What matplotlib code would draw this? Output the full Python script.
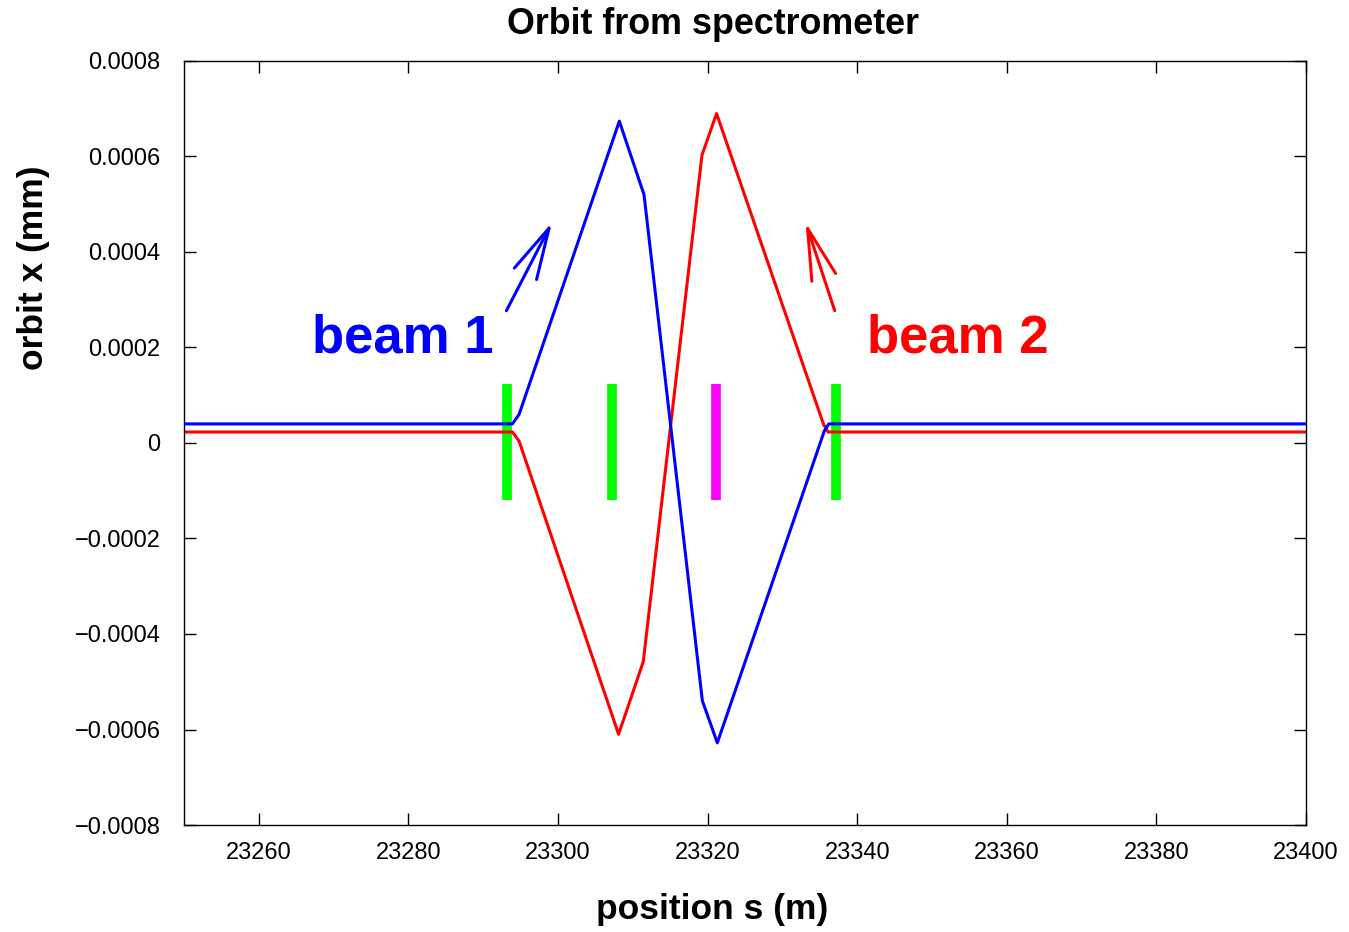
import matplotlib
matplotlib.use("Agg")
import matplotlib.pyplot as plt
from matplotlib.ticker import FuncFormatter, MultipleLocator

plt.rcParams['font.family'] = ['Liberation Sans', 'DejaVu Sans']

# ---- data ----
s_beam1 = [23250, 23293.9, 23294.8, 23308.2, 23311.5, 23319.3, 23321.3, 23335.6, 23336.2, 23400]
x_beam1 = [0.00004, 0.00004, 0.00006, 0.000674, 0.00052, -0.00054, -0.000628, 0.000025, 0.00004, 0.00004]

s_beam2 = [23250, 23293.9, 23294.8, 23308.1, 23311.4, 23319.25, 23321.2, 23335.5, 23336.1, 23400]
x_beam2 = [0.000023, 0.000023, 0.000004, -0.00061, -0.000458, 0.000603, 0.00069, 0.000039, 0.000023, 0.000023]

element_s = [23293.2, 23307.2, 23321.1, 23337.1]
element_colors = ['#00ff00', '#00ff00', '#ff00ff', '#00ff00']
element_top = 0.000123
element_bottom = -0.00012

arrow1_tail = (23293.1, 0.000277)
arrow1_head = (23299.2, 0.000462)
arrow2_tail = (23337.0, 0.000277)
arrow2_head = (23333.1, 0.000462)

xlim = (23250, 23400)
ylim = (-0.0008, 0.0008)

# ---- figure ----
fig = plt.figure(figsize=(13.49, 9.32), dpi=100)
ax = fig.add_axes([184/1349, 1-825/932, (1306-184)/1349, (825-61)/932])

ax.vlines(element_s, element_bottom, element_top, colors=element_colors, lw=7, zorder=1)
ax.plot(s_beam1, x_beam1, color='#0000ff', lw=2.2, zorder=3)
ax.plot(s_beam2, x_beam2, color='#ff0000', lw=2.2, zorder=2)

for tail, head, col in [(arrow1_tail, arrow1_head, '#0000ff'), (arrow2_tail, arrow2_head, '#ff0000')]:
    ax.annotate('', xy=head, xytext=tail,
                arrowprops=dict(arrowstyle='->,head_length=37,head_width=9',
                                mutation_scale=1, color=col, lw=2.2,
                                shrinkA=0, shrinkB=0))

ax.text(23250 + (403-184)/7.48, (442-338)/477.5*0.001, 'beam 1', color='#0000ff',
        fontsize=38, fontweight='bold', ha='center', va='center')
ax.text(23250 + (958-184)/7.48, (442-338)/477.5*0.001, 'beam 2', color='#ff0000',
        fontsize=38, fontweight='bold', ha='center', va='center')

ax.set_xlim(*xlim)
ax.set_ylim(*ylim)
ax.xaxis.set_major_locator(MultipleLocator(20))
ax.yaxis.set_major_locator(MultipleLocator(0.0002))

def yfmt(v, pos):
    if abs(v) < 1e-12:
        return '0'
    s = f'{v:.4f}'
    return s.replace('-', '\u2212')

ax.yaxis.set_major_formatter(FuncFormatter(yfmt))
ax.xaxis.set_major_formatter(FuncFormatter(lambda v, p: f'{v:.0f}'))

ax.tick_params(axis='both', which='major', direction='in', length=8.6, width=1,
               top=True, right=True, labelsize=17, color='black')
ax.tick_params(axis='y', pad=17)
ax.tick_params(axis='x', pad=12)
for sp in ax.spines.values():
    sp.set_linewidth(1.0)

fig.text(713/1349, 1-24/932, 'Orbit from spectrometer', fontsize=25.8, fontweight='bold',
         ha='center', va='center')
fig.text(712/1349, 1-910/932, 'position s (m)', fontsize=25.5, fontweight='bold',
         ha='center', va='center')
fig.text(34/1349, 1-268/932, 'orbit x (mm)', fontsize=25.5, fontweight='bold',
         ha='center', va='center', rotation=90)

fig.savefig('out.png', dpi=100)
